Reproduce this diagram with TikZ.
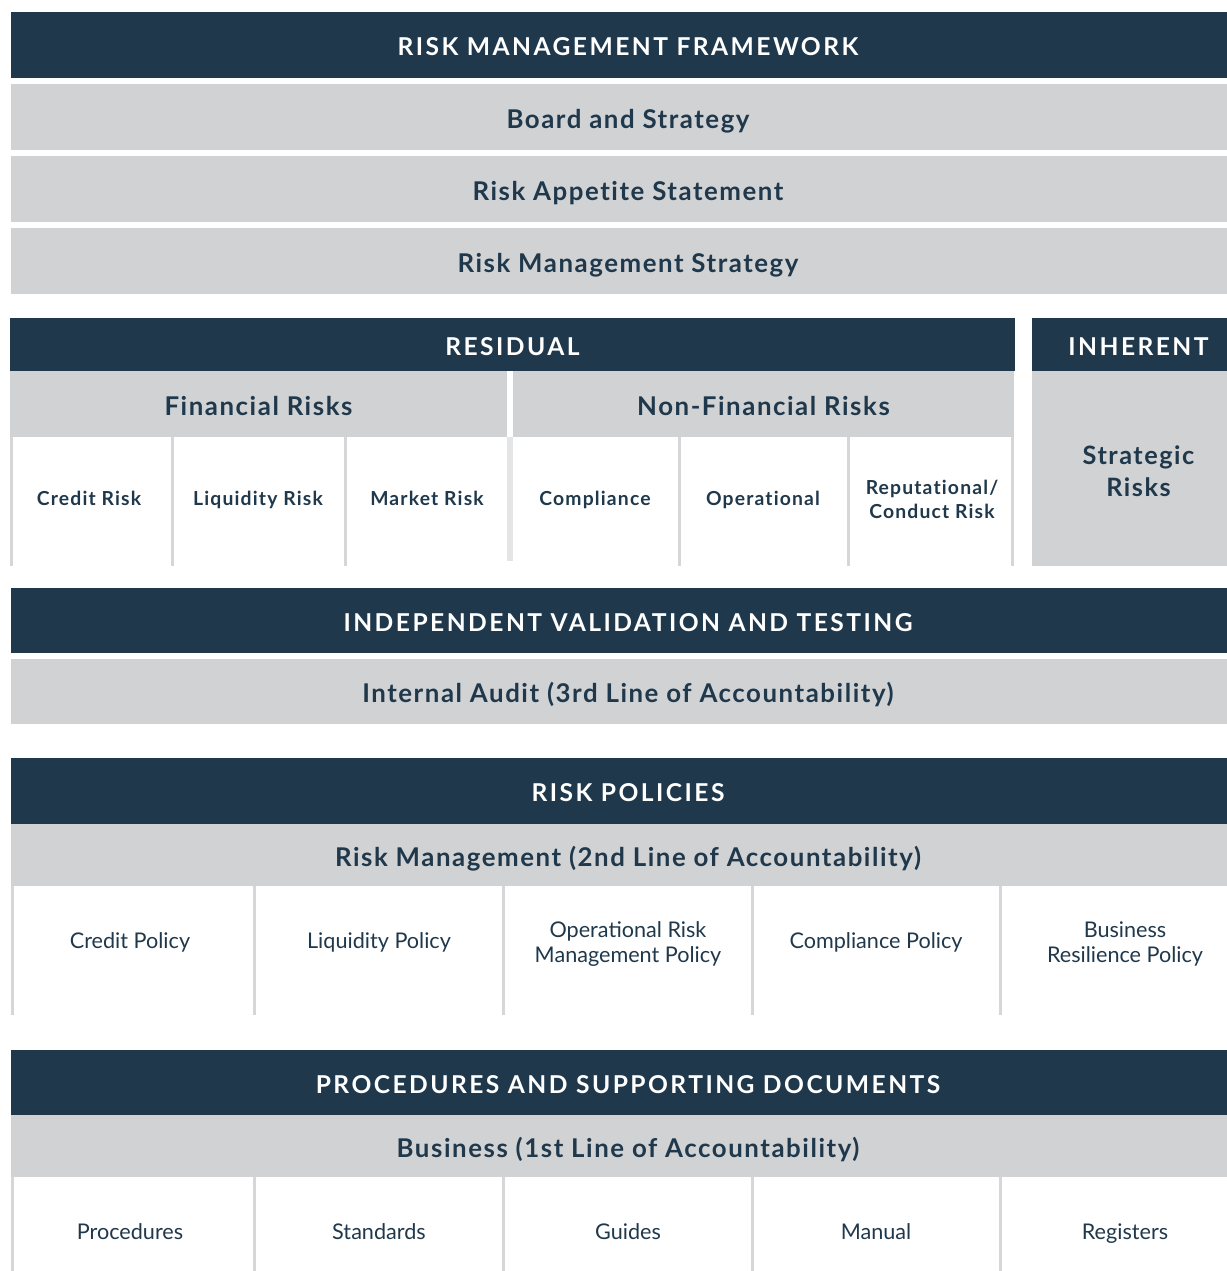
\documentclass[tikz,border=0pt]{standalone}
\usepackage{fontspec}
\setmainfont{Lato}
\newfontfamily\capsfont[LetterSpace=10]{Lato}
\newfontfamily\bandfont[LetterSpace=6, Ligatures=CommonOff]{Lato}
\definecolor{navy}{RGB}{31,56,75}
\definecolor{band}{RGB}{209,210,212}
\definecolor{sepgrey}{RGB}{214,214,216}
\definecolor{gapgrey}{RGB}{228,229,231}
\tikzset{
    bw/.style={minimum width=#1*0.02cm},
    bh/.style={minimum height=#1*0.02cm},
    onerow/.style={text height=#1, text depth=0pt},
}

\begin{document}
\begin{tikzpicture}[x=0.02cm, y=-0.02cm]
    \useasboundingbox (0,0) rectangle (1227,1271);

    % dark header bars
    \begin{scope}[every node/.style={rectangle, fill=navy, text=white, inner sep=0pt, outer sep=0pt, onerow=12.2pt, font=\capsfont\bfseries\fontsize{14}{17}\selectfont}]
        \node[bw=1234, bh=66] (rmf) at (628,45) {RISK MANAGEMENT FRAMEWORK};
        \node[bw=1005, bh=53] (residual) at (512.5,344.5) {RESIDUAL};
        \node[bw=213, bh=53] (inherent) at (1138.5,344.5) {INHERENT};
        \node[bw=1234, bh=65] (indep) at (628,620.5) {INDEPENDENT VALIDATION AND TESTING};
        \node[bw=1234, bh=66] (policies) at (628,791) {RISK POLICIES};
        \node[bw=1234, bh=65] (procs) at (628,1082.5) {PROCEDURES AND SUPPORTING DOCUMENTS};
    \end{scope}

    % grey bands
    \begin{scope}[every node/.style={rectangle, fill=band, text=navy, inner sep=0pt, outer sep=0pt, onerow=12.7pt, font=\bandfont\bfseries\fontsize{14.7}{18}\selectfont}]
        \node[bw=1234, bh=66] (board) at (628,117) {Board and Strategy};
        \node[bw=1234, bh=66] (appetite) at (628,189) {Risk Appetite Statement};
        \node[bw=1234, bh=66] (strategy) at (628,261) {Risk Management Strategy};
        \node[bw=497, bh=66] (fin) at (258.5,404) {Financial Risks};
        \node[bw=501, bh=66] (nonfin) at (763.5,404) {Non-Financial Risks};
        \node[bw=1234, bh=65] (audit) at (628,691.5) {Internal Audit (3rd Line of Accountability)};
        \node[bw=1234, bh=62] (rmline) at (628,855) {Risk Management (2nd Line of Accountability)};
        \node[bw=1234, bh=62] (bizline) at (628,1146) {Business (1st Line of Accountability)};
    \end{scope}
    \fill[band] (1032,371) rectangle (1245,566);
    \node[text=navy, align=center, font=\bandfont\bfseries\fontsize{14.4}{18}\selectfont] (strategic) at (1138.5,471) {Strategic\\Risks};

    % cell separators
    \begin{scope}[every path/.style={draw=sepgrey, line width=3*0.02cm}]
        \foreach \x in {11.5,172.5,345.5,679.5,848.5,1012.5}
            \path (\x,437) -- (\x,566);
        \foreach \x in {12.5,254.5,503.5,752.5,1000.5}
            \path (\x,886) -- (\x,1015);
        \foreach \x in {12.5,254.5,503.5,752.5,1000.5}
            \path (\x,1177) -- (\x,1271);
    \end{scope}
    \fill[gapgrey] (507,437) rectangle (513,561);

    % residual risk cells
    \begin{scope}[every node/.style={text=navy, align=center, font=\bandfont\bfseries\fontsize{11}{13.5}\selectfont}]
        \node[onerow=7.9pt] (credit) at (89,499) {Credit Risk};
        \node[onerow=7.9pt] (liquidity) at (258,499) {Liquidity Risk};
        \node[onerow=7.9pt] (market) at (427,499) {Market Risk};
        \node[onerow=7.9pt] (compliance) at (595,499) {Compliance};
        \node[onerow=7.9pt] (operational) at (763,499) {Operational};
        \node (reputational) at (932,499.5) {Reputational/\\Conduct Risk};
    \end{scope}

    % policy and document cells
    \begin{scope}[every node/.style={text=navy, align=center, font=\fontsize{12.3}{14.5}\selectfont}]
        \node[onerow=8.8pt] (creditpol) at (130,941) {Credit Policy};
        \node[onerow=8.8pt] (liquiditypol) at (379,941) {Liquidity Policy};
        \node (oprpol) at (628,944) {Operational Risk\\Management Policy};
        \node[onerow=8.8pt] (compliancepol) at (876,941) {Compliance Policy};
        \node (resiliencepol) at (1125,944) {Business\\Resilience Policy};
        \node[onerow=8.8pt] (procedures) at (130,1232) {Procedures};
        \node[onerow=8.8pt] (standards) at (379,1232) {Standards};
        \node[onerow=8.8pt] (guides) at (628,1232) {Guides};
        \node[onerow=8.8pt] (manual) at (876,1232) {Manual};
        \node[onerow=8.8pt] (registers) at (1125,1232) {Registers};
    \end{scope}
\end{tikzpicture}
\end{document}
